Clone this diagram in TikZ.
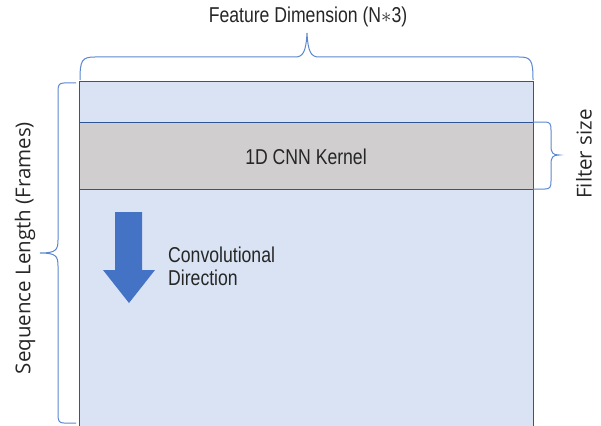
\documentclass[tikz,border=0pt]{standalone}
\usepackage{fontspec}
\setmainfont{Liberation Sans}[FakeStretch=0.82]
\newfontfamily\sidefont{Open Sans}
\definecolor{panelfill}{HTML}{DAE3F3}
\definecolor{panelline}{HTML}{2F5597}
\definecolor{kernelfill}{HTML}{D0CECE}
\definecolor{bracecol}{HTML}{5B87CF}
\definecolor{arrowcol}{HTML}{4472C4}
\definecolor{textcol}{HTML}{262626}
\begin{document}
\begin{tikzpicture}[x=1pt,y=-1pt,
  panel/.style={draw=panelline,line width=0.9pt,fill=panelfill},
  kernelbox/.style={draw=panelline,line width=0.9pt,fill=kernelfill},
  bracestyle/.style={draw=bracecol,line width=1pt},
  lbl/.style={text=textcol,font=\fontsize{21.5}{23}\selectfont,inner sep=0pt},
  sidelbl/.style={text=textcol,font=\sidefont\fontsize{20.5}{23}\selectfont,inner sep=0pt,rotate=90}]
\useasboundingbox (0,0) rectangle (601,425);
% feature map
\path[panel] (79,81) rectangle (533,428);
% kernel band
\path[kernelbox] (79,122) rectangle (533,189);
\node[lbl] (kernel) at (306,157) {1D CNN Kernel};
% braces
\draw[bracestyle] (80,80) .. controls (80,60) and (82,57) .. (95,57) -- (295,57)
  .. controls (303,57) and (306,52) .. (307,33)
  .. controls (308,52) and (311,57) .. (319,57) -- (519,57)
  .. controls (531,57) and (533,60) .. (533,80);
\node[lbl] (feat) at (308,17) {Feature Dimension (N$*$3)};
\draw[bracestyle] (533,122) -- (545,122) .. controls (550,122) and (551,124) .. (551,130) -- (551,146)
  .. controls (551,153) and (553,155) .. (559,155)
  .. controls (553,155) and (551,157) .. (551,164) -- (551,181)
  .. controls (551,187) and (550,189) .. (545,189) -- (533,189);
\node[sidelbl] (filter) at (584,154) {Filter size};
\draw[bracestyle] (76,83) -- (64,83) .. controls (59,83) and (58,85) .. (58,92) -- (58,240)
  .. controls (58,250) and (56,253) .. (40,253)
  .. controls (56,253) and (58,256) .. (58,266) -- (58,414)
  .. controls (58,421) and (59,423) .. (64,423) -- (76,423);
\node[sidelbl] (seq) at (25,248) {Sequence Length (Frames)};
% convolution direction arrow
\path[fill=arrowcol] (115,212) -- (142,212) -- (142,270) -- (155,270) -- (129,303)
  -- (103,270) -- (115,270) -- cycle;
\node[lbl,anchor=west,align=left] (dir) at (168,266) {Convolutional\\Direction};
\end{tikzpicture}
\end{document}
